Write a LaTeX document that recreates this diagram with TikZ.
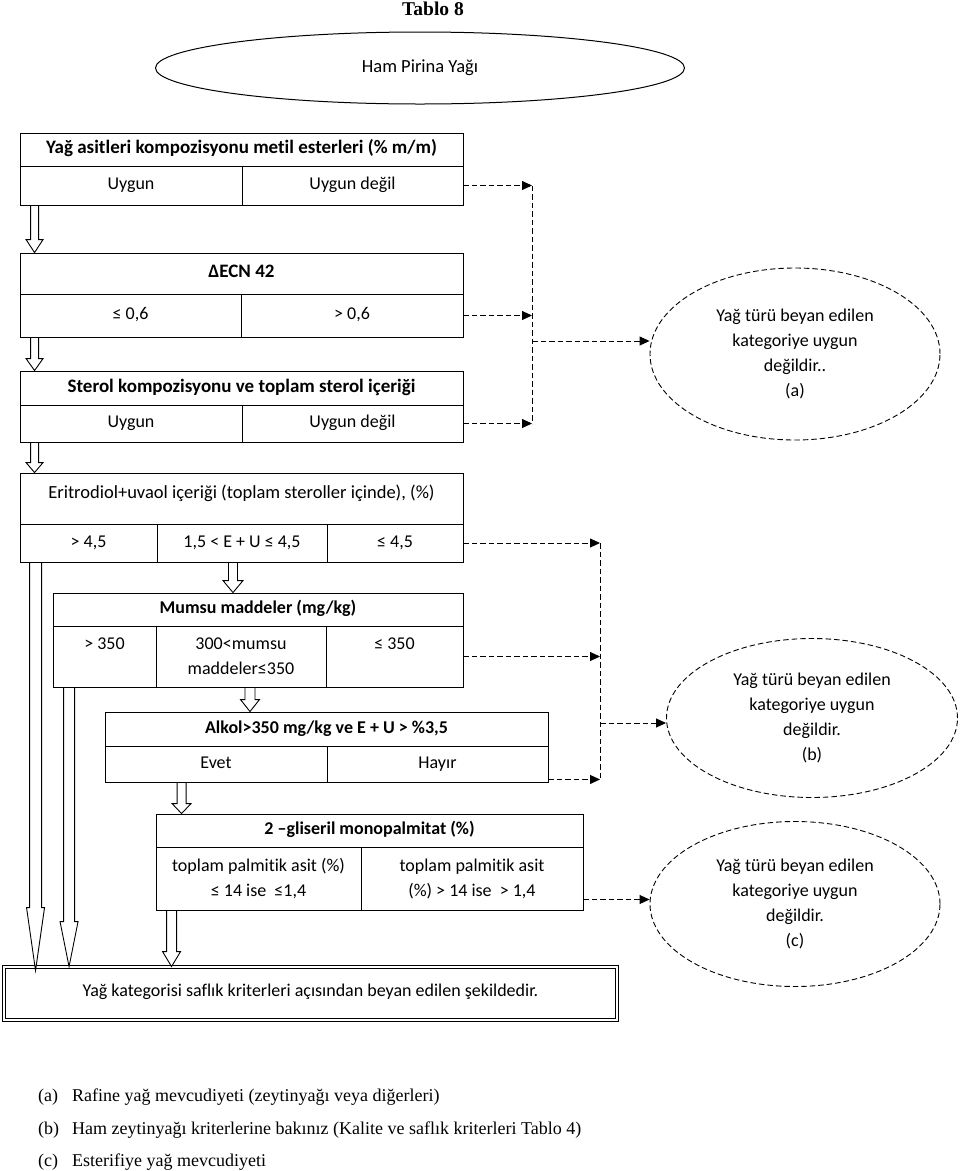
\documentclass[tikz,border=0pt]{standalone}
\usepackage{fontspec}
\setmainfont[Ligatures=NoCommon]{Carlito}
\newfontfamily\timesfont{Liberation Serif}
\usetikzlibrary{shapes.geometric,arrows.meta,calc}
\newcommand{\diagfont}{\fontsize{18pt}{25pt}\selectfont}

\begin{document}
\begin{tikzpicture}
[x=1pt,y=-1pt,
 box/.style={draw,line width=0.9pt,inner sep=0pt,align=center,font=\diagfont},
 cell/.style={box,text height=13pt,text depth=4.5pt},
 hdr/.style={cell,font=\fontsize{#1}{25pt}\selectfont\bfseries},
 hdr/.default=19pt,
 verdict/.style={ellipse,draw,line width=0.9pt,dash pattern=on 5.5pt off 3pt,inner sep=0pt,align=center,font=\diagfont},
 dashline/.style={line width=0.9pt,dash pattern=on 5.5pt off 3pt},
 dasharrow/.style={dashline,-{Triangle[length=10pt,width=9pt]}},
 note/.style={inner sep=0pt,font=\timesfont\fontsize{18pt}{20pt}\selectfont},
 hollow/.style n args={3}{draw,fill=white,line width=0.9pt,
   to path={let \p1=(\tikztostart), \p2=(\tikztotarget) in
     (\x1-#1,\y1) -- (\x1-#1,\y2+#3) -- (\x1-#2,\y2+#3) -- (\x1,\y2)
     -- (\x1+#2,\y2+#3) -- (\x1+#1,\y2+#3) -- (\x1+#1,\y1) -- cycle}}]
\useasboundingbox (0,0) rectangle (960,1171);

\node[font=\timesfont\bfseries\fontsize{19.5pt}{20pt}\selectfont] (title) at (433,9) {Tablo 8};
\node[ellipse,draw,line width=1pt,inner sep=0pt,minimum width=529pt,minimum height=72pt,font=\fontsize{18.5pt}{25pt}\selectfont] (src) at (420,68) {Ham Pirina Yağı};

% fatty acids
\node[hdr,minimum width=443pt,minimum height=33pt] (yag1) at (241.5,149.5) {Yağ asitleri kompozisyonu metil esterleri (\% m/m)};
\node[cell,minimum width=222pt,minimum height=39pt] (yag1a) at (131,185.5) {Uygun};
\node[cell,minimum width=221pt,minimum height=39pt] (yag1b) at (352.5,185.5) {Uygun değil};

% ECN 42
\node[hdr,minimum width=443pt,minimum height=41pt] (ecn2) at (241.5,273.5) {ΔECN 42};
\node[cell,minimum width=221pt,minimum height=43pt] (ecn2a) at (130.5,315.5) {≤ 0,6};
\node[cell,minimum width=222pt,minimum height=43pt] (ecn2b) at (352,315.5) {> 0,6};

% sterols
\node[hdr,minimum width=443pt,minimum height=34pt] (ster3) at (241.5,388) {Sterol kompozisyonu ve toplam sterol içeriği};
\node[cell,minimum width=222pt,minimum height=37pt] (ster3a) at (131,423.5) {Uygun};
\node[cell,minimum width=221pt,minimum height=37pt] (ster3b) at (352.5,423.5) {Uygun değil};

% erythrodiol + uvaol
\node[cell,minimum width=443pt,minimum height=51pt,text depth=13pt,font=\fontsize{18.5pt}{25pt}\selectfont] (eri4) at (241.5,498.5) {Eritrodiol+uvaol içeriği (toplam steroller içinde), (\%)};
\node[cell,minimum width=137pt,minimum height=38pt] (eri4a) at (88.5,543) {> 4,5};
\node[cell,minimum width=170pt,minimum height=38pt] (eri4b) at (242,543) {1,5 < E + U ≤ 4,5};
\node[cell,minimum width=136pt,minimum height=38pt] (eri4c) at (395,543) {≤ 4,5};

% waxes
\node[hdr=18pt,minimum width=410pt,minimum height=33pt] (mum5) at (258,609.5) {Mumsu maddeler (mg/kg)};
\node[box,minimum width=103pt,minimum height=61pt] (mum5a) at (104.5,656.5) {> 350\\ \mbox{}};
\node[box,minimum width=170pt,minimum height=61pt] (mum5b) at (241,656.5) {300<mumsu\\maddeler≤350};
\node[box,minimum width=137pt,minimum height=61pt] (mum5c) at (394.5,656.5) {≤ 350\\ \mbox{}};

% alcohols
\node[hdr=18pt,minimum width=443pt,minimum height=34pt] (alk6) at (326.5,729) {Alkol>350 mg/kg ve E + U > \%3,5};
\node[cell,minimum width=222pt,minimum height=36pt] (alk6a) at (216,764) {Evet};
\node[cell,minimum width=221pt,minimum height=36pt] (alk6b) at (437.5,764) {Hayır};

% 2-glyceryl monopalmitate
\node[hdr=18pt,minimum width=427pt,minimum height=33pt] (gly7) at (369.5,830.5) {2 –gliseril monopalmitat (\%)};
\node[box,minimum width=205pt,minimum height=63pt] (gly7a) at (258.5,878.5) {toplam palmitik asit (\%)\\≤ 14 ise\ \ ≤1,4};
\node[box,minimum width=222pt,minimum height=63pt] (gly7b) at (472,878.5) {toplam palmitik asit\\(\%) > 14 ise\ \ > 1,4};

\node[cell,double,double distance=2.4pt,minimum width=613pt,minimum height=53pt,text depth=8pt] (final) at (310.5,993.5) {Yağ kategorisi saflık kriterleri açısından beyan edilen şekildedir.};

% verdicts
\node[verdict,minimum width=290pt,minimum height=172pt] (fa) at (795,354) {Yağ türü beyan edilen\\kategoriye uygun\\değildir..\\(a)};
\node[verdict,minimum width=291pt,minimum height=159pt] (fb) at (812,718) {Yağ türü beyan edilen\\kategoriye uygun\\değildir.\\(b)};
\node[verdict,minimum width=290pt,minimum height=165pt] (fc) at (795,904) {Yağ türü beyan edilen\\kategoriye uygun\\değildir.\\(c)};

% hollow arrows
\draw[hollow={4}{8.5}{13}] ([xshift=15pt]yag1a.south west) to (ecn2.north);
\draw[hollow={4}{8.5}{12}] ([xshift=15pt]ecn2a.south west) to (ster3.north);
\draw[hollow={4}{8.5}{10}] ([xshift=15pt]ster3a.south west) to (eri4.north);
\draw[hollow={4.5}{10}{12}] ([xshift=-9pt]eri4b.south) to (mum5.north);
\draw[hollow={5}{9.5}{12}] ([xshift=9pt]mum5b.south) to (alk6.north);
\draw[hollow={4.5}{9.5}{10}] ([xshift=77pt]alk6a.south west) to (gly7.north);
\draw[hollow={6}{9}{63}] ([xshift=16pt]eri4a.south west) to ([yshift=-4pt]final.north);
\draw[hollow={5.5}{9}{45}] ([xshift=16.5pt]mum5a.south west) to (final.north);
\draw[hollow={5}{9}{15}] ([xshift=16pt]gly7a.south west) to (final.north);

% dashed connectors (a)
\coordinate (ja) at (532,341);
\draw[dasharrow] (yag1b.east) -- (yag1b.east -| ja);
\draw[dasharrow] (ecn2b.east) -- (ecn2b.east -| ja);
\draw[dasharrow] (ster3b.east) -- (ster3b.east -| ja);
\draw[dashline] (yag1b.east -| ja) -- (ster3b.east -| ja);
\draw[dasharrow] (ja) -- (ja -| fa.west);

% dashed connectors (b)
\coordinate (jb) at (600,723);
\coordinate (hb) at ([yshift=3pt]alk6b.south east);
\draw[dasharrow] (eri4c.east) -- (eri4c.east -| jb);
\draw[dasharrow] (mum5c.east) -- (mum5c.east -| jb);
\draw[dasharrow] (hb) -- (hb -| jb);
\draw[dashline] (eri4c.east -| jb) -- (hb -| jb);
\draw[dasharrow] (jb) -- (jb -| fb.west);

% dashed connector (c)
\coordinate (jc) at ([yshift=-21pt]gly7b.east);
\draw[dasharrow] (jc) -- (jc -| fc.west);

% notes
\node[note,anchor=base west] (notea) at (38,1101) {\makebox[34pt][l]{(a)}Rafine yağ mevcudiyeti (zeytinyağı veya diğerleri)};
\node[note,anchor=base west] (noteb) at (38,1134) {\makebox[34pt][l]{(b)}Ham zeytinyağı kriterlerine bakınız (Kalite ve saflık kriterleri Tablo 4)};
\node[note,anchor=base west] (notec) at (38,1166) {\makebox[34pt][l]{(c)}Esterifiye yağ mevcudiyeti};
\end{tikzpicture}
\end{document}
